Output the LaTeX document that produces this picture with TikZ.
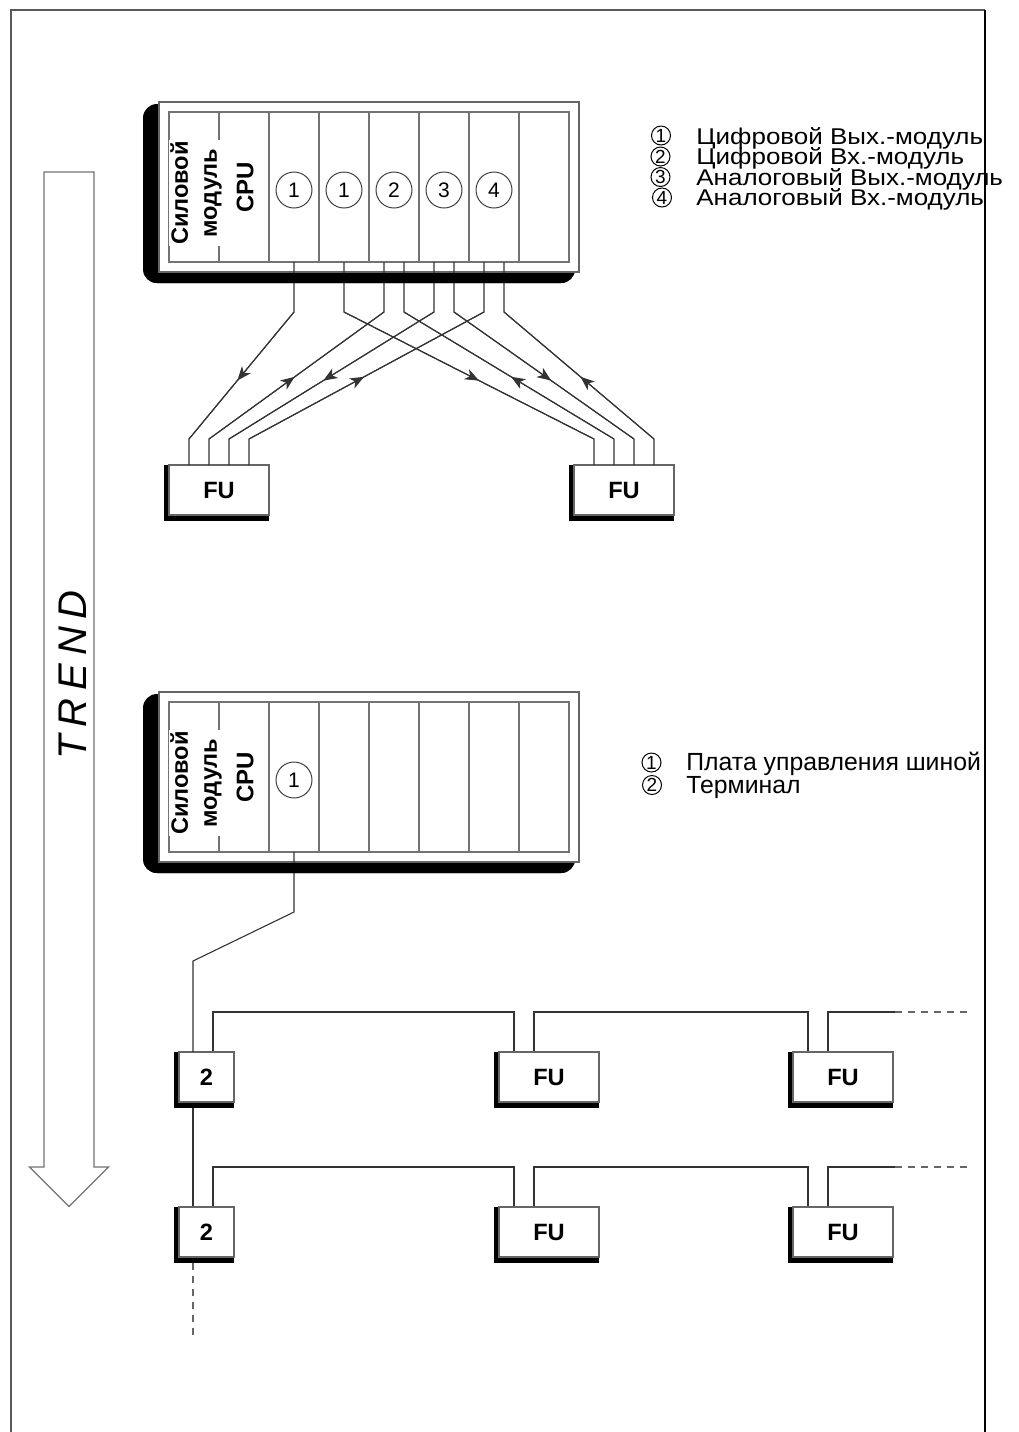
\documentclass[tikz,border=0pt]{standalone}
\usepackage{fontspec}
\setmainfont{Liberation Sans}
\newfontfamily\legfont[FakeStretch=1.14]{Liberation Sans}
\usetikzlibrary{arrows.meta,decorations.markings,calc}
\pgfdeclarelayer{lines}
\pgfdeclarelayer{shade}
\pgfsetlayers{lines,shade,main}

\newcommand\drawrack[2]{%
  \fill[black, rounded corners=7pt] (143,{104+#2}) rectangle (575,{283+#2});
  \filldraw[fill=white, draw=black!60, line width=0.6pt] (159,{102+#2}) rectangle (579,{272+#2});
  \draw[rackline] (169,{112+#2}) rectangle (569,{262+#2});
  \foreach \xx in {219,269,...,519} {\draw[rackline] (\xx,{112+#2}) -- (\xx,{262+#2});}
  \node[pmtext] (#1pm) at (196,{193+#2}) {Силовой\\модуль};
  \node[cputext] (#1cpu) at (245,{187+#2}) {CPU};
  \foreach \i in {3,...,8} {\coordinate (#1s\i) at ({50*\i+144},{262+#2});}
}
\newcommand\rackstrip[1]{%
  \begin{scope}
    \clip (140,{273+#1}) rectangle (580,{295+#1});
    \fill[black, rounded corners=7pt] (143,{104+#1}) rectangle (575,{283+#1});
  \end{scope}
}
\newcommand\tightlines[2]{\vtop{\baselineskip=#1\lineskiplimit=-100pt\lineskip=0pt #2}}

\begin{document}
\begin{tikzpicture}[x=0.5pt,y=-0.5pt,
  rackline/.style={draw=black!55, line width=0.6pt},
  wire/.style={draw=black!80, line width=0.55pt},
  boxbase/.style={draw=black!60, line width=0.6pt, fill=white, inner sep=0pt, outer sep=0pt, minimum height=25pt, font=\fontsize{11.8}{12}\selectfont\bfseries},
  fubox/.style={boxbase, minimum width=50pt},
  termbox/.style={boxbase, minimum width=27.5pt},
  pmtext/.style={rotate=90, align=center, fill=white, inner sep=0.8pt, font=\fontsize{11.8}{14.5}\selectfont\bfseries},
  cputext/.style={rotate=90, inner sep=0pt, font=\fontsize{12}{12}\selectfont\bfseries},
  slotc/.style={circle, draw=black!75, line width=0.5pt, minimum size=18pt, inner sep=0pt, font=\fontsize{10.5}{11}\selectfont},
  legc/.style={circle, draw=black, line width=0.5pt, minimum size=9.5pt, inner sep=0pt, font=\fontsize{9.5}{10}\selectfont},
  legt/.style={anchor=base west, inner sep=0pt},
  tofu/.style={postaction={decorate}, decoration={markings, mark=at position 0.54 with {\arrow{Stealth[length=7pt,width=5.6pt,inset=2pt]}}}},
  torack/.style={postaction={decorate}, decoration={markings, mark=at position 0.49 with {\arrow{Stealth[length=7pt,width=5.6pt,inset=2pt]}}}},
  dashline/.style={draw=black!60, line width=0.6pt, dash pattern=on 3.5pt off 3pt},
]
\useasboundingbox (0,0) rectangle (1019,1432);

% frame
\draw[black!65, line width=0.6pt] (11,1432) -- (11,10) -- (985,10);
\draw[black, line width=0.9pt] (985,10) -- (985,1432);

% trend arrow
\draw[black!55, line width=0.6pt, fill=white] (44,172) -- (94,172) -- (94,1167) -- (108.5,1167) -- (69,1206.5) -- (29.5,1167) -- (44,1167) -- cycle;
\node[rotate=90, inner sep=0pt, font=\fontsize{20}{20}\selectfont\itshape] (trend) at (73,675) {T\hspace{4pt}R\hspace{4pt}E\hspace{4pt}N\hspace{4pt}D};

% ---------- rack 1 ----------
\drawrack{r1}{0}
\node[slotc] (r1c3) at (294,190) {1};
\node[slotc] (r1c4) at (344,190) {1};
\node[slotc] (r1c5) at (394,190) {2};
\node[slotc] (r1c6) at (444,190) {3};
\node[slotc] (r1c7) at (494,190) {4};

\node[fubox] (fu1) at (219,490) {FU};
\node[fubox] (fu2) at (624,490) {FU};

\coordinate (w1) at (r1s3);
\coordinate (w2) at (r1s4);
\coordinate (w3) at ($(r1s5)+(-10,0)$);
\coordinate (w4) at ($(r1s5)+(10,0)$);
\coordinate (w5) at ($(r1s6)+(-10,0)$);
\coordinate (w6) at ($(r1s6)+(10,0)$);
\coordinate (w7) at ($(r1s7)+(-10,0)$);
\coordinate (w8) at ($(r1s7)+(10,0)$);
\foreach \k in {1,2,3,4} {
  \coordinate (f1p\k) at ($(fu1.north west)+({20*\k},0)$);
  \coordinate (f2p\k) at ($(fu2.north west)+({20*\k},0)$);
}
\coordinate (yb1) at (0,312);
\coordinate (yp1) at (0,439);
\foreach \w/\p in {w1/f1p1, w2/f2p1, w5/f1p3, w6/f2p3} {
  \draw[wire] (\w) -- (\w|-yb1) -- (\p|-yp1) -- (\p);
  \draw[wire, tofu] (\w|-yb1) -- (\p|-yp1);
}
\foreach \w/\p in {w3/f1p2, w4/f2p2, w7/f1p4, w8/f2p4} {
  \draw[wire] (\w) -- (\w|-yb1) -- (\p|-yp1) -- (\p);
  \draw[wire, torack] (\p|-yp1) -- (\w|-yb1);
}
\rackstrip{0}

% legend 1
\node[legc] (la1) at (661,135.5) {1};
\node[legc] (la2) at (660.5,156.5) {2};
\node[legc] (la3) at (660.5,177) {3};
\node[legc] (la4) at (662,197.5) {4};
\node[legt, font=\legfont\fontsize{11.4}{10.3}\selectfont] (lt) at (696,144)
  {\tightlines{10.3pt}{\hbox{Цифровой Вых.-модуль}\hbox{Цифровой Вх.-модуль}\hbox{Аналоговый Вых.-модуль}\hbox{Аналоговый Вх.-модуль}}};

% ---------- rack 2 ----------
\drawrack{r2}{590}
\node[slotc] (r2c3) at (294,780) {1};

\node[termbox] (t1) at (206.5,1077) {2};
\node[fubox] (fu3) at (549,1077) {FU};
\node[fubox] (fu4) at (843,1077) {FU};
\node[termbox] (t2) at (206.5,1232) {2};
\node[fubox] (fu5) at (549,1232) {FU};
\node[fubox] (fu6) at (843,1232) {FU};

\coordinate (yk1) at (0,912);
\coordinate (yk2) at (0,961);
\coordinate (t1l) at ($(t1.north west)+(14,0)$);
\draw[wire] (r2s3) -- (r2s3|-yk1) -- (t1l|-yk2) -- (t1l);
\rackstrip{590}

% legend 2
\node[legc] (lb1) at (651.5,762.5) {1};
\node[legc] (lb2) at (652,785) {2};
\node[legt, font=\fontsize{12.4}{11.3}\selectfont] (lu) at (686,770.7)
  {\tightlines{11.3pt}{\hbox{Плата управления шиной}\hbox{Терминал}}};

% bus lines
\begin{pgfonlayer}{lines}
\foreach \r/\t/\fa/\fb/\h in {1/t1/fu3/fu4/1012, 2/t2/fu5/fu6/1167} {
  \coordinate (tr\r) at ($(\t.north west)+(34,0)$);
  \coordinate (fa\r l) at ($(\fa.north west)+(15,0)$);
  \coordinate (fa\r r) at ($(\fa.north west)+(35,0)$);
  \coordinate (fb\r l) at ($(\fb.north west)+(15,0)$);
  \coordinate (fb\r r) at ($(\fb.north west)+(35,0)$);
  \coordinate (hh\r) at (0,\h);
  \coordinate (e\r) at (895,\h);
  \coordinate (d\r) at (970,\h);
  \draw[wire] (tr\r) -- (tr\r|-hh\r) -- (fa\r l|-hh\r) -- (fa\r l);
  \draw[wire] (fa\r r) -- (fa\r r|-hh\r) -- (fb\r l|-hh\r) -- (fb\r l);
  \draw[wire] (fb\r r) -- (fb\r r|-hh\r) -- (e\r);
  \draw[dashline] (e\r) -- (d\r);
}
\coordinate (t1b) at ($(t1.south west)+(14,0)$);
\coordinate (t2t) at ($(t2.north west)+(14,0)$);
\coordinate (t2b) at ($(t2.south west)+(14,5.5)$);
\coordinate (tend) at (0,1337);
\draw[wire] (t1b) -- (t2t);
\draw[dashline] (t2b) -- (t2b|-tend);
\end{pgfonlayer}

% box shadows
\begin{pgfonlayer}{shade}
\foreach \n in {fu1,fu2,t1,fu3,fu4,t2,fu5,fu6} {
  \fill[black] ($(\n.north west)+(-5.5,0)$) rectangle ($(\n.south east)+(0,5.5)$);
}
\end{pgfonlayer}
\end{tikzpicture}
\end{document}
